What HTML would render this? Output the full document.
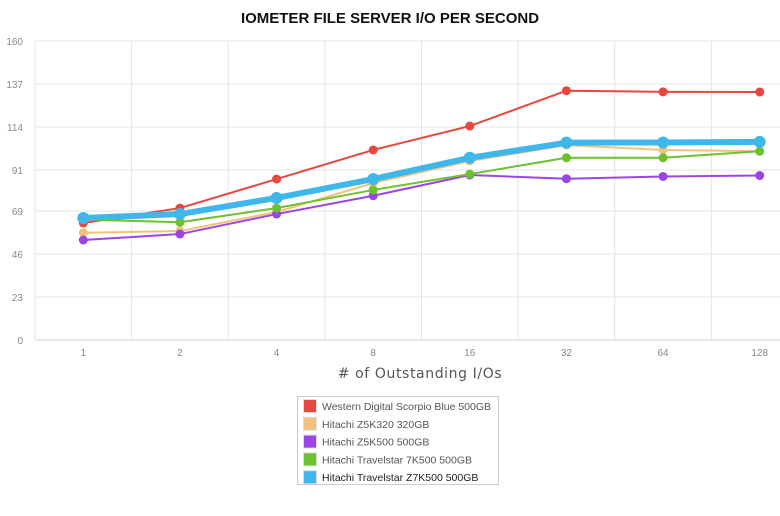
<!DOCTYPE html>
<html><head><meta charset="utf-8"><style>
html,body{margin:0;padding:0;background:#fff;width:780px;height:516px;overflow:hidden}
svg text{font-family:"Liberation Sans",sans-serif}
</style></head><body>
<svg id="chart" width="780" height="516">
<text x="390" y="23" text-anchor="middle" font-size="15" font-weight="bold" fill="#111">IOMETER FILE SERVER I/O PER SECOND</text>
<g id="grid"></g><g id="ylabels"></g><g id="xlabels"></g><g id="series"></g>
<text x="420" y="378" text-anchor="middle" font-size="14" fill="#555" style="font-family:'DejaVu Sans',sans-serif;letter-spacing:0.6px"># of Outstanding I/Os</text>
<g>
<rect x="297.5" y="396.5" width="201" height="88" fill="#fff" stroke="#ccc"/>
<g id="legend"></g>
</g>
</svg>
<script>
const categories=["1","2","4","8","16","32","64","128"];
const yTicks=[0,23,46,69,91,114,137,160];
const seriesNames=["Western Digital Scorpio Blue 500GB","Hitachi Z5K320 320GB","Hitachi Z5K500 500GB","Hitachi Travelstar 7K500 500GB","Hitachi Travelstar Z7K500 500GB"];
const seriesColors=["#e8473f","#f0c27b","#9b44e8","#6cc12e","#3fb7ea"];
const wdValues=[62.6,70.6,86.1,101.7,114.5,133.4,132.8,132.7];
const z5k320Values=[57.4,58.3,68.5,84,95.8,104.3,101.7,101];
const z5k500Values=[53.5,56.7,67.4,77.2,88.3,86.3,87.5,88];
const t7k500Values=[64.5,63,70.6,80.3,88.8,97.5,97.5,101];
const z7k500Values=[65.3,67.4,76,86.1,97.5,105.6,105.7,106];
const allValues=[wdValues,z5k320Values,z5k500Values,t7k500Values,z7k500Values];
const NS="http://www.w3.org/2000/svg";
const L=35,R=808,T=41,B=340,yMax=160;
const bw=(R-L)/categories.length;
const xs=i=>L+bw*(i+0.5);
const ys=v=>B-(v/yMax)*(B-T);
function mk(tag,attrs,parent){const e=document.createElementNS(NS,tag);for(const k in attrs)e.setAttribute(k,attrs[k]);parent.appendChild(e);return e;}
const grid=document.getElementById('grid');
yTicks.forEach(t=>{
 const l=mk('line',{x1:L,x2:R,y1:ys(t),y2:ys(t),stroke:t===0?'#d0d0d0':'#e4e4e4','stroke-width':1},grid);
 
 
 const tx=mk('text',{x:23,y:ys(t)+4,'text-anchor':'end','font-size':10,fill:'#888'},document.getElementById('ylabels'));
 tx.textContent=t;
 
 
});
for(let i=0;i<=categories.length;i++){
 const l=mk('line',{x1:L+bw*i,x2:L+bw*i,y1:T,y2:B,stroke:'#e4e4e4','stroke-width':1},grid);
 
 
}
categories.forEach((c,i)=>{
 const tx=mk('text',{x:xs(i),y:356,'text-anchor':'middle','font-size':10,fill:'#888'},document.getElementById('xlabels'));
 tx.textContent=c;
 
 
});
const sg=document.getElementById('series');
allValues.forEach((vals,s)=>{
 const g=mk('g',{},sg);
 
 
 const big=s===4;
 const p=mk('polyline',{points:vals.map((v,i)=>xs(i)+','+ys(v)).join(' '),fill:'none',stroke:seriesColors[s],'stroke-width':big?6:2,'stroke-linejoin':'round'},g);
 
 
 vals.forEach((v,i)=>{
  const c=mk('circle',{cx:xs(i),cy:ys(v),r:big?6:4.5,fill:seriesColors[s]},g);
  
  
 });
});
const lg=document.getElementById('legend');
seriesNames.forEach((n,s)=>{
 const y=406+s*17.8;
 const g=mk('g',{},lg);
 
 
 mk('rect',{x:303.5,y:y-6.5,width:13,height:13,fill:seriesColors[s],stroke:'#ddd'},g);
 const t=mk('text',{x:322,y:y+4,'font-size':10.5,fill:s===4?'#222':'#555'},g);
 t.textContent=n;
});
</script>
</body></html>
